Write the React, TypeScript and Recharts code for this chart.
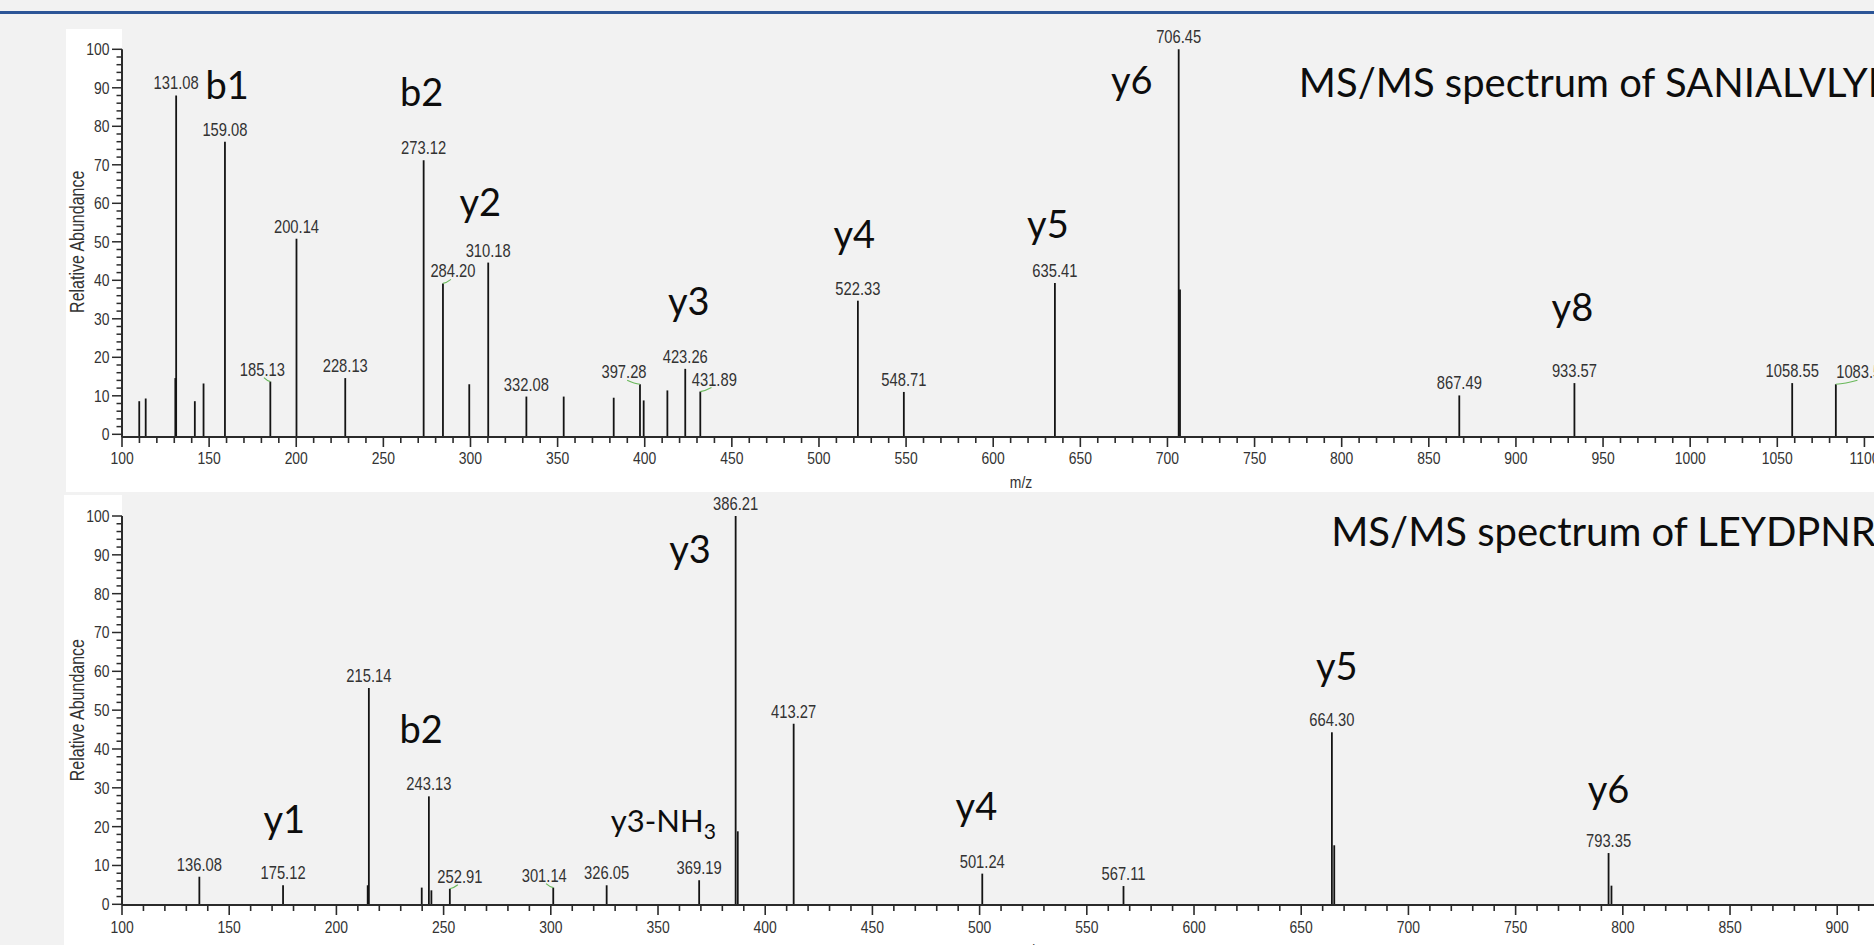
import React from 'react';
import {
  ComposedChart,
  Scatter,
  XAxis,
  YAxis,
  ErrorBar,
  CartesianGrid,
  ReferenceLine,
} from 'recharts';

// ---------------- data: MS/MS spectrum of SANIALVLYK ----------------
const topMz = [109.9, 113.6, 130.6, 131.08, 141.8, 146.8, 159.08, 185.13, 200.14, 228.13, 273.12, 284.2, 299.3, 310.18, 332.08, 353.5, 382.2, 397.28, 399.4, 413.0, 423.26, 431.89, 522.33, 548.71, 635.41, 706.45, 707.2, 867.49, 933.57, 1058.55, 1083.6];
const topAbundance = [8.6, 9.3, 14.6, 88.0, 8.6, 13.2, 76.0, 13.7, 50.8, 14.6, 71.2, 39.2, 13.0, 44.6, 9.8, 9.8, 9.5, 13.0, 8.8, 11.4, 17.0, 11.1, 34.7, 11.0, 39.3, 100, 37.6, 10.1, 13.3, 13.3, 13.0];
const topPeakLabels = ['', '', '', '131.08', '', '', '159.08', '185.13', '200.14', '228.13', '273.12', '284.20', '', '310.18', '332.08', '', '', '397.28', '', '', '423.26', '431.89', '522.33', '548.71', '635.41', '706.45', '', '867.49', '933.57', '1058.55', '1083.59'];

const topIonNames = ['b1', 'b2', 'y2', 'y3', 'y4', 'y5', 'y6', 'y8'];
const topIonMz = [160.4, 272.0, 305.6, 425.3, 520.3, 631.4, 679.5, 932.4];
const topIonAb = [87.1, 85.3, 56.6, 31.0, 48.3, 50.9, 88.3, 29.5];
const topTitle = 'MS/MS spectrum of SANIALVLYK';
const topTitleMz = 775.4;
const topTitleAb = 87.7;

// ---------------- data: MS/MS spectrum of LEYDPNR ----------------
const bottomMz = [136.08, 175.12, 214.6, 215.14, 239.8, 243.13, 244.3, 252.91, 301.14, 326.05, 369.19, 386.21, 387.2, 413.27, 501.24, 567.11, 664.3, 665.4, 793.35, 794.7];
const bottomAbundance = [7.1, 4.9, 4.9, 55.7, 4.3, 27.8, 3.6, 4.0, 4.3, 4.9, 6.2, 100, 18.8, 46.5, 7.9, 4.7, 44.3, 15.2, 13.2, 4.8];
const bottomPeakLabels = ['136.08', '175.12', '', '215.14', '', '243.13', '', '252.91', '301.14', '326.05', '369.19', '386.21', '', '413.27', '501.24', '567.11', '664.30', '', '793.35', ''];

const bottomIonNames = ['y1', 'b2', 'y3', 'y3-NH', 'y4', 'y5', 'y6'];
const bottomIonSub = ['', '', '', '3', '', '', ''];
const bottomIonMz = [175.7, 239.5, 364.9, 352.5, 498.5, 666.6, 793.3];
const bottomIonAb = [18.4, 41.5, 87.8, 18.7, 21.7, 57.8, 26.0];
const bottomTitle = 'MS/MS spectrum of LEYDPNR';
const bottomTitleMz = 664.0;
const bottomTitleAb = 92.4;

// ---------------- axis tick labels ----------------
const yMajorTicks = [0, 10, 20, 30, 40, 50, 60, 70, 80, 90, 100];

// label nudges (pixels) for labels that the software displaced (green leader)
const labelShift: Record<string, number> = {
  '185.13': -8,
  '284.20': 10,
  '397.28': -16,
  '431.89': 14,
  '1083.59': 27,
  '252.91': 10,
  '301.14': -9,
};

// ---------------- styles ----------------
const AXIS_COLOR = '#2b2b2b';
const TEXT_COLOR = '#333333';
const NUM_FONT = "'Liberation Sans', Arial, Helvetica, sans-serif";
const ANNO_FONT = "Lato, 'Open Sans', sans-serif";
const NARROW = 0.82;
const PLOT_BG = '#f2f2f2';

function steps(start: number, stop: number, step: number) {
  const out: number[] = [];
  for (let v = start; v <= stop + 1e-9; v += step) out.push(Math.round(v * 1000) / 1000);
  return out;
}

const yTicks = steps(yMajorTicks[0], yMajorTicks[yMajorTicks.length - 1], 2);

function NText({ x, y, size, anchor = 'middle', rotate = 0, fill = TEXT_COLOR, children }: any) {
  const rot = rotate ? ` rotate(${rotate})` : '';
  return (
    <text
      transform={`translate(${x},${y})${rot} scale(${NARROW},1)`}
      textAnchor={anchor}
      fontFamily={NUM_FONT}
      fontSize={size}
      fill={fill}
    >
      {children}
    </text>
  );
}

function XTick(props: any) {
  const { x, y, payload, labelOffset } = props;
  const v = Number(payload.value);
  const major = Math.abs(v % 50) < 1e-6;
  return (
    <g>
      <line x1={x} x2={x} y1={y} y2={y + (major ? 10 : 6)} stroke={AXIS_COLOR} strokeWidth={1.6} />
      {major && (
        <NText x={x} y={y + labelOffset} size={17}>
          {String(v)}
        </NText>
      )}
    </g>
  );
}

function YTick(props: any) {
  const { x, y, payload } = props;
  const v = Number(payload.value);
  const major = Math.abs(v % 10) < 1e-6;
  return (
    <g>
      <line x1={x - (major ? 10 : 5.5)} x2={x} y1={y} y2={y} stroke={AXIS_COLOR} strokeWidth={1.5} />
      {major && (
        <NText x={x - 12.5} y={y + 6} size={17} anchor="end">
          {String(v)}
        </NText>
      )}
    </g>
  );
}

function YLabel(props: any) {
  const { viewBox, yMin, yMax, baseX } = props;
  if (!viewBox) return null;
  const { x, y, height } = viewBox;
  const cy = y + (height * (yMax - 50)) / (yMax - yMin);
  return (
    <NText x={x + baseX} y={cy} size={19.5} rotate={-90}>
      Relative Abundance
    </NText>
  );
}

function XLabel(props: any) {
  const { viewBox, below } = props;
  if (!viewBox) return null;
  const { x, y, width } = viewBox;
  return (
    <NText x={x + width / 2} y={y + below} size={17}>
      m/z
    </NText>
  );
}

function PeakShape(props: any) {
  const { cx, cy, payload } = props;
  if (!payload || !payload.label || cx == null || cy == null) return <g />;
  const dx = labelShift[payload.label] ?? 0;
  return (
    <g>
      {dx !== 0 && (
        <path
          d={`M${cx},${cy} q ${dx * 0.35},${-0.5} ${dx * 0.8},${-4}`}
          stroke="#69b85a"
          strokeWidth={1.2}
          fill="none"
        />
      )}
      <NText x={cx + dx} y={cy - 6} size={18}>
        {payload.label}
      </NText>
    </g>
  );
}

function IonShape(props: any) {
  const { cx, cy, payload, size, subSize } = props;
  if (!payload || cx == null || cy == null) return <g />;
  const fs = payload.sub ? subSize : size;
  return (
    <text x={cx} y={cy} textAnchor="middle" fontFamily={ANNO_FONT} fontSize={fs} fill="#0d0d0d">
      {payload.text}
      {payload.sub ? (
        <tspan fontSize={fs * 0.68} dy={fs * 0.24}>
          {payload.sub}
        </tspan>
      ) : null}
    </text>
  );
}

function TitleShape(props: any) {
  const { cx, cy, payload, size } = props;
  if (!payload || cx == null || cy == null) return <g />;
  return (
    <text x={cx} y={cy} textAnchor="start" fontFamily={ANNO_FONT} fontSize={size} fill="#0d0d0d">
      {payload.text}
    </text>
  );
}

type PanelProps = {
  width: number;
  height: number;
  topMargin: number;
  yAxisWidth: number;
  xAxisHeight: number;
  xDomain: [number, number];
  yDomain: [number, number];
  mz: number[];
  ab: number[];
  labels: string[];
  ionNames: string[];
  ionSub: string[];
  ionMz: number[];
  ionAb: number[];
  title: string;
  titleMz: number;
  titleAb: number;
  xTickLabelOffset: number;
  xLabelBelow: number;
  yLabelX: number;
};

function Panel(p: PanelProps) {
  const [yMin, yMax] = p.yDomain;
  const peaks = p.mz.map((m, i) => ({
    mz: m,
    ab: p.ab[i],
    err: [p.ab[i] - yMin, 0],
    label: p.labels[i],
  }));
  const ions = p.ionNames.map((t, i) => ({ text: t, sub: p.ionSub[i] || '', mz: p.ionMz[i], ab: p.ionAb[i] }));
  const titleData = [{ text: p.title, mz: p.titleMz, ab: p.titleAb }];
  const xTicks = steps(p.xDomain[0], p.xDomain[1], 10);

  return (
    <ComposedChart width={p.width} height={p.height} margin={{ top: p.topMargin, right: 0, bottom: 0, left: 0 }}>
      <CartesianGrid horizontal={false} vertical={false} fill={PLOT_BG} stroke="none" />
      <XAxis
        type="number"
        dataKey="mz"
        domain={p.xDomain}
        allowDataOverflow
        ticks={xTicks}
        interval={0}
        tick={<XTick labelOffset={p.xTickLabelOffset} />}
        tickLine={false}
        tickSize={0}
        tickMargin={0}
        axisLine={{ stroke: AXIS_COLOR, strokeWidth: 2 }}
        height={p.xAxisHeight}
        label={<XLabel below={p.xLabelBelow} />}
      />
      <YAxis
        type="number"
        dataKey="ab"
        domain={p.yDomain}
        allowDataOverflow
        ticks={yTicks}
        interval={0}
        tick={<YTick />}
        tickLine={false}
        tickSize={0}
        tickMargin={0}
        axisLine={false}
        width={p.yAxisWidth}
        label={<YLabel yMin={yMin} yMax={yMax} baseX={p.yLabelX} />}
      />
      <ReferenceLine
        segment={[
          { x: p.xDomain[0], y: yMin },
          { x: p.xDomain[0], y: yMajorTicks[yMajorTicks.length - 1] },
        ]}
        stroke={AXIS_COLOR}
        strokeWidth={2}
        ifOverflow="visible"
      />
      <Scatter data={peaks} shape={(sp: any) => <PeakShape {...sp} />} isAnimationActive={false}>
        <ErrorBar dataKey="err" direction="y" width={0} stroke="#141414" strokeWidth={1.8} isAnimationActive={false} />
      </Scatter>
      <Scatter data={ions} shape={(sp: any) => <IonShape {...sp} size={38} subSize={31} />} isAnimationActive={false} />
      <Scatter data={titleData} shape={(sp: any) => <TitleShape {...sp} size={40} />} isAnimationActive={false} />
    </ComposedChart>
  );
}

export default function App() {
  return (
    <div
      style={{
        position: 'absolute',
        left: 0,
        top: 0,
        width: 1874,
        height: 945,
        overflow: 'hidden',
        background: '#f2f2f2',
      }}
    >
      <div style={{ position: 'absolute', left: 0, top: 11, width: 1874, height: 3, background: '#2c5597' }} />

      {/* white panels behind the transparent charts */}
      <div style={{ position: 'absolute', left: 66, top: 29, width: 1808, height: 463, background: '#ffffff' }} />
      <div style={{ position: 'absolute', left: 64, top: 495, width: 1810, height: 450, background: '#ffffff' }} />

      <div style={{ position: 'absolute', left: 66, top: 14, width: 1854, height: 478 }}>
        <Panel
          width={1854}
          height={478}
          topMargin={15}
          yAxisWidth={56}
          xAxisHeight={55}
          xDomain={[100, 1131.9]}
          yDomain={[-0.7, 105.27]}
          mz={topMz}
          ab={topAbundance}
          labels={topPeakLabels}
          ionNames={topIonNames}
          ionSub={[]}
          ionMz={topIonMz}
          ionAb={topIonAb}
          title={topTitle}
          titleMz={topTitleMz}
          titleAb={topTitleAb}
          xTickLabelOffset={27}
          xLabelBelow={51}
          yLabelX={17.5}
        />
      </div>

      <div style={{ position: 'absolute', left: 64, top: 480, width: 1874, height: 485 }}>
        <Panel
          width={1874}
          height={485}
          topMargin={15}
          yAxisWidth={58}
          xAxisHeight={60}
          xDomain={[100, 947.0]}
          yDomain={[-0.18, 105.41]}
          mz={bottomMz}
          ab={bottomAbundance}
          labels={bottomPeakLabels}
          ionNames={bottomIonNames}
          ionSub={bottomIonSub}
          ionMz={bottomIonMz}
          ionAb={bottomIonAb}
          title={bottomTitle}
          titleMz={bottomTitleMz}
          titleAb={bottomTitleAb}
          xTickLabelOffset={28}
          xLabelBelow={51}
          yLabelX={19.5}
        />
      </div>
    </div>
  );
}
